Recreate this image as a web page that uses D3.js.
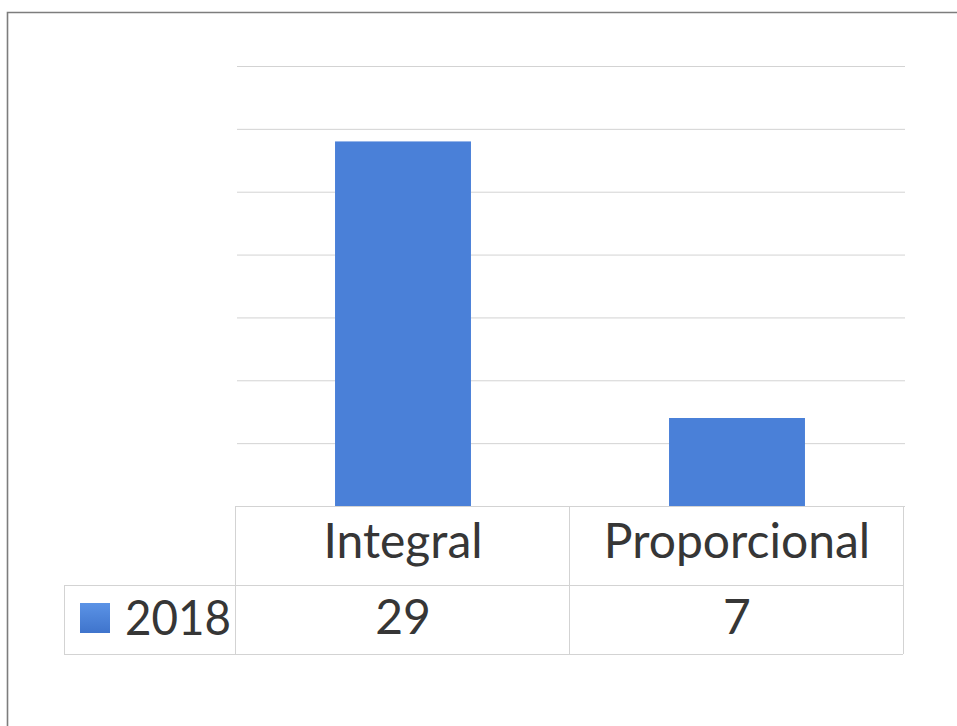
<!DOCTYPE html>
<html>
<head>
<meta charset="utf-8">
<script src="https://cdn.jsdelivr.net/npm/d3@7"></script>
<style>
  html, body { margin: 0; padding: 0; background: #ffffff; }
  svg { display: block; }
  text { font-family: Lato, "Open Sans", sans-serif; fill: #363636; }
</style>
</head>
<body>
<svg id="chart" width="957" height="726"></svg>
<script>
// ---- data ----
const categories = ["Integral", "Proporcional"];
const seriesName = "2018";
const values = [29, 7];
const gridValues = [0, 5, 10, 15, 20, 25, 30, 35];

// ---- layout ----
const W = 957, H = 726;
const plot = { left: 235, right: 903, top: 66, bottom: 506 };
const tableRow1Bottom = 585, tableBottom = 654, legendLeft = 64;
const barColor = "#4a80d8";
const lineColor = "#d3d3d3";
const fontSize = 48;

const svg = d3.select("#chart");

// outer frame (only top and left visible; extends beyond the picture)
svg.append("path")
  .attr("d", `M7.5,${H + 5} L7.5,12.5 L${W + 5},12.5`)
  .attr("fill", "none")
  .attr("stroke", "#7d7d7d")
  .attr("stroke-width", 1.6);

const x = d3.scaleBand().domain(categories).range([plot.left, plot.right]).padding(0);
const y = d3.scaleLinear().domain([0, 35]).range([plot.bottom, plot.top]);

// gridlines
svg.append("g")
  .attr("transform", `translate(${plot.left + 2},0)`)
  .call(d3.axisLeft(y).tickValues(gridValues).tickSize(-(plot.right - plot.left)).tickFormat(""))
  .call(g => g.select(".domain").remove())
  .call(g => g.selectAll(".tick line").attr("stroke", lineColor).attr("stroke-width", 1));

// bars
const barFrac = 0.407;
svg.append("g").selectAll("rect")
  .data(values)
  .join("rect")
  .attr("x", (d, i) => x(categories[i]) + x.bandwidth() * (1 - barFrac) / 2 + 1)
  .attr("width", x.bandwidth() * barFrac)
  .attr("y", d => y(d))
  .attr("height", d => y(0) - y(d))
  .attr("fill", barColor);

// data table lines
const tbl = svg.append("g").attr("stroke", lineColor).attr("stroke-width", 1).attr("fill", "none");
tbl.append("line").attr("x1", plot.left).attr("x2", plot.right).attr("y1", y(0) + 0.5).attr("y2", y(0) + 0.5);
tbl.append("line").attr("x1", legendLeft).attr("x2", plot.right).attr("y1", tableRow1Bottom + 0.5).attr("y2", tableRow1Bottom + 0.5);
tbl.append("line").attr("x1", legendLeft).attr("x2", plot.right).attr("y1", tableBottom + 0.5).attr("y2", tableBottom + 0.5);
const vlines = [plot.left].concat(categories.map(c => x(c) + x.bandwidth()));
tbl.selectAll("line.v").data(vlines).join("line").attr("class", "v")
  .attr("x1", d => d + 0.5).attr("x2", d => d + 0.5)
  .attr("y1", y(0)).attr("y2", tableBottom);
tbl.append("line").attr("x1", legendLeft + 0.5).attr("x2", legendLeft + 0.5)
  .attr("y1", tableRow1Bottom).attr("y2", tableBottom);

// header labels
svg.append("g").selectAll("text")
  .data(categories)
  .join("text")
  .attr("x", d => x(d) + x.bandwidth() / 2 + 1)
  .attr("y", 558)
  .attr("text-anchor", "middle")
  .attr("font-size", fontSize)
  .text(d => d);

// value row
svg.append("g").selectAll("text")
  .data(values)
  .join("text")
  .attr("x", (d, i) => x(categories[i]) + x.bandwidth() / 2 + 1)
  .attr("y", 634)
  .attr("text-anchor", "middle")
  .attr("font-size", fontSize)
  .text(d => d);

// legend key
const grad = svg.append("defs").append("linearGradient")
  .attr("id", "lg").attr("x1", 0).attr("y1", 0).attr("x2", 0).attr("y2", 1);
grad.append("stop").attr("offset", "0%").attr("stop-color", "#5b93e6");
grad.append("stop").attr("offset", "100%").attr("stop-color", "#3f74cc");
svg.append("rect").attr("x", 80).attr("y", 603).attr("width", 30).attr("height", 30).attr("fill", "url(#lg)");
svg.append("text").attr("x", 125).attr("y", 635).attr("font-size", fontSize)
  .attr("textLength", 106).attr("lengthAdjust", "spacingAndGlyphs").text(seriesName);
</script>
</body>
</html>
